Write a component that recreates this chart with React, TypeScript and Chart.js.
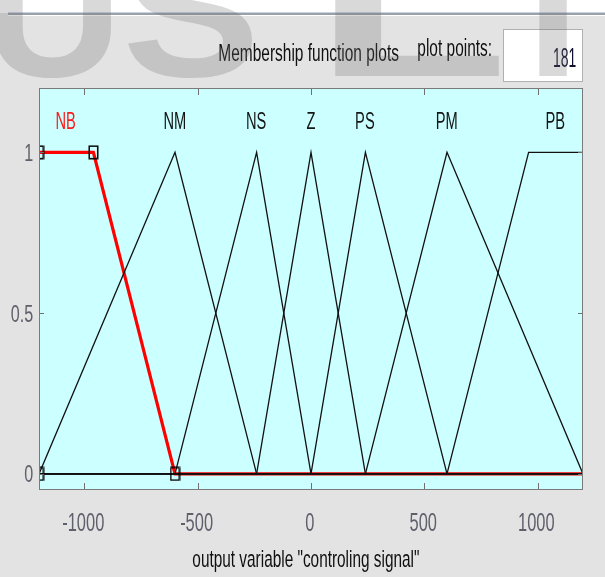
import React, { useEffect, useRef } from 'react';
import { Chart, registerables } from 'chart.js';

Chart.register(...registerables);

// ---- data ----
const X_MIN = -1200;
const X_MAX = 1200;
const Y_MIN = -0.05;
const Y_MAX = 1.2;
const mfNames = ['NB', 'NM', 'NS', 'Z', 'PS', 'PM', 'PB'];
const mfParams: number[][] = [
  [-1200, -1200, -960, -600], // NB trapmf
  [-1200, -600, -240], // NM trimf
  [-600, -240, 0], // NS trimf
  [-240, 0, 240], // Z trimf
  [0, 240, 600], // PS trimf
  [240, 600, 1200], // PM trimf
  [600, 960, 1200, 1200], // PB trapmf
];
const selectedIndex = 0;
const xTickValues = [-1000, -500, 0, 500, 1000];
const xTickLabels = ['-1000', '-500', '0', '500', '1000'];
const yTickValues = [0, 0.5, 1];
const yTickLabels = ['0', '0.5', '1'];
const labelLevel = 1.1;
const xAxisTitle = 'output variable "controling signal"';
const panelTitle = 'Membership function plots';
const plotPointsLabel = 'plot points:';
const plotPointsValue = '181';
const watermarkLetters = ['U', 'S', 'L', 'T'];

// ---- helpers ----
function toTrap(p: number[]) {
  return p.length === 3 ? [p[0], p[1], p[1], p[2]] : p;
}
function trapVal(x: number, t: number[]) {
  const [a, b, c, d] = t;
  if (x < a || x > d) return 0;
  if (x >= b && x <= c) return 1;
  if (x < b) return (x - a) / (b - a);
  return (d - x) / (d - c);
}
function mfPoints(p: number[]) {
  const t = toTrap(p);
  const xs = Array.from(new Set([X_MIN, ...t, X_MAX]))
    .filter((v) => v >= X_MIN && v <= X_MAX)
    .sort((a, b) => a - b);
  return xs.map((x) => ({ x, y: trapVal(x, t) }));
}

const FONT = '"Liberation Sans", Arial, sans-serif';

type TOpts = {
  left?: number;
  right?: number;
  cx?: number;
  width?: number;
  sx?: number;
  baseline: number;
  capH: number;
  color: string;
  weight?: string;
};
function drawText(ctx: CanvasRenderingContext2D, text: string, o: TOpts) {
  const size = o.capH / 0.716;
  ctx.save();
  ctx.font = `${o.weight || 'normal'} ${size}px ${FONT}`;
  ctx.textAlign = 'left';
  ctx.textBaseline = 'alphabetic';
  const m = ctx.measureText(text);
  const inkW = m.actualBoundingBoxLeft + m.actualBoundingBoxRight;
  const sx = o.width ? o.width / inkW : o.sx || 1;
  const w = inkW * sx;
  let left = 0;
  if (o.left !== undefined) left = o.left;
  else if (o.right !== undefined) left = o.right - w;
  else if (o.cx !== undefined) left = o.cx - w / 2;
  ctx.translate(left, o.baseline);
  ctx.scale(sx, 1);
  ctx.fillStyle = o.color;
  ctx.fillText(text, m.actualBoundingBoxLeft, 0);
  ctx.restore();
}

function makeMarker() {
  const c = document.createElement('canvas');
  c.width = 11;
  c.height = 15;
  const g = c.getContext('2d')!;
  g.strokeStyle = '#000';
  g.lineWidth = 1.5;
  g.strokeRect(1.25, 1.25, 8.5, 12.5);
  return c;
}

const decorPlugin = {
  id: 'decor',
  beforeDraw(chart: any) {
    const { ctx, chartArea: a, width, height } = chart;
    ctx.save();
    ctx.fillStyle = '#e3e3e3';
    ctx.fillRect(0, 0, width, height);
    ctx.fillStyle = '#ffffff';
    ctx.fillRect(0, 0, width, 13);
    ctx.fillStyle = '#c8d4e4';
    ctx.fillRect(8, 12, width - 8, 1);
    ctx.fillStyle = '#9aa0a8';
    ctx.fillRect(8, 13, width - 8, 2);
    ctx.fillStyle = '#ffffff';
    ctx.fillRect(8, 15, width - 8, 1);
    // plot area
    ctx.fillStyle = '#ccffff';
    ctx.fillRect(a.left, a.top, a.right - a.left, a.bottom - a.top);
    // plot points box
    ctx.fillStyle = '#ffffff';
    ctx.fillRect(503, 29, 79, 52);
    ctx.strokeStyle = '#b0b0b0';
    ctx.lineWidth = 1;
    ctx.strokeRect(503.5, 29.5, 79, 52);
    ctx.restore();
  },
  afterDatasetsDraw(chart: any) {
    const { ctx, chartArea: a, scales } = chart;
    const xs = scales.x;
    const ys = scales.y;
    ctx.save();
    // ticks inside box
    ctx.strokeStyle = '#707070';
    ctx.lineWidth = 1;
    ctx.beginPath();
    xTickValues.forEach((v) => {
      const px = Math.round(xs.getPixelForValue(v)) + 0.5;
      ctx.moveTo(px, a.top);
      ctx.lineTo(px, a.top + 7);
      ctx.moveTo(px, a.bottom);
      ctx.lineTo(px, a.bottom - 7);
    });
    yTickValues.forEach((v) => {
      const py = Math.round(ys.getPixelForValue(v)) + 0.5;
      ctx.moveTo(a.left, py);
      ctx.lineTo(a.left + 5, py);
      ctx.moveTo(a.right, py);
      ctx.lineTo(a.right - 5, py);
    });
    ctx.stroke();
    // border
    ctx.strokeStyle = '#7a7a7a';
    ctx.strokeRect(a.left + 0.5, a.top + 0.5, a.right - a.left - 1, a.bottom - a.top - 1);
    ctx.restore();

    // tick labels
    xTickValues.forEach((v, i) => {
      drawText(ctx, xTickLabels[i], {
        cx: xs.getPixelForValue(v) - 1,
        baseline: 531,
        capH: 19,
        sx: 0.62,
        color: '#60606c',
      });
    });
    yTickValues.forEach((v, i) => {
      const py = ys.getPixelForValue(v);
      drawText(ctx, yTickLabels[i], {
        right: 33,
        baseline: py + 8.5,
        capH: 17,
        sx: 0.68,
        color: '#60606c',
      });
    });
    // MF labels
    mfParams.forEach((p, i) => {
      const t = toTrap(p);
      const lx = xs.getPixelForValue((t[1] + t[2]) / 2);
      const ly = ys.getPixelForValue(labelLevel);
      drawText(ctx, mfNames[i], {
        cx: lx,
        baseline: ly + 8.8,
        capH: 17.5,
        sx: 0.6,
        color: i === selectedIndex ? '#ff1a1a' : '#151515',
      });
    });
    // titles
    drawText(ctx, panelTitle, { left: 219, width: 180, baseline: 61, capH: 17, color: '#101010' });
    drawText(ctx, plotPointsLabel, { left: 418, width: 73, baseline: 56, capH: 17, color: '#101010' });
    drawText(ctx, plotPointsValue, { right: 576, width: 22, baseline: 67, capH: 20, color: '#101030' });
    drawText(ctx, xAxisTitle, { left: 193, width: 226, baseline: 567, capH: 17.5, color: '#101010' });
  },
  afterDraw(chart: any) {
    const { ctx } = chart;
    const col = 'rgba(110,110,110,0.26)';
    const pos = [
      { left: -6, width: 118 },
      { left: 128, width: 124 },
      { left: 335, width: 165 },
      { left: 497, width: 112 },
    ];
    watermarkLetters.forEach((l, i) => {
      drawText(ctx, l, { ...pos[i], baseline: 76, capH: 130, color: col, weight: 'bold' });
    });
  },
};

export default function App() {
  const ref = useRef<HTMLCanvasElement | null>(null);
  useEffect(() => {
    if (!ref.current) return;
    const marker = makeMarker();
    const sel = toTrap(mfParams[selectedIndex]);
    const datasets: any[] = [];
    datasets.push({
      label: 'markers',
      data: [
        { x: sel[0], y: 0 },
        { x: sel[1], y: 1 },
        { x: sel[2], y: 1 },
        { x: sel[3], y: 0 },
      ],
      showLine: false,
      pointStyle: marker,
      pointRadius: 5,
      clip: 0,
      order: 0,
    });
    mfParams.forEach((p, i) => {
      if (i === selectedIndex) return;
      datasets.push({
        label: mfNames[i],
        data: mfPoints(p),
        showLine: true,
        borderColor: '#111111',
        borderWidth: 1.3,
        pointRadius: 0,
        fill: false,
        clip: 0,
        order: 1,
      });
    });
    datasets.push({
      label: mfNames[selectedIndex],
      data: mfPoints(mfParams[selectedIndex]),
      showLine: true,
      borderColor: '#ff0000',
      borderWidth: 3.2,
      pointRadius: 0,
      fill: false,
      clip: 0,
      order: 2,
    });
    const chart = new Chart(ref.current, {
      type: 'scatter',
      data: { datasets },
      options: {
        animation: false,
        responsive: false,
        events: [],
        layout: { padding: { left: 39, top: 88, right: 22, bottom: 87 } },
        scales: {
          x: { type: 'linear', min: X_MIN, max: X_MAX, display: false },
          y: { type: 'linear', min: Y_MIN, max: Y_MAX, display: false },
        },
        plugins: { legend: { display: false }, tooltip: { enabled: false } },
        elements: { line: { tension: 0 } },
      } as any,
      plugins: [decorPlugin],
    });
    return () => chart.destroy();
  }, []);
  return (
    <div style={{ position: 'absolute', left: 0, top: 0, width: 605, height: 577 }}>
      <canvas ref={ref} width={605} height={577} style={{ display: 'block' }} />
    </div>
  );
}
